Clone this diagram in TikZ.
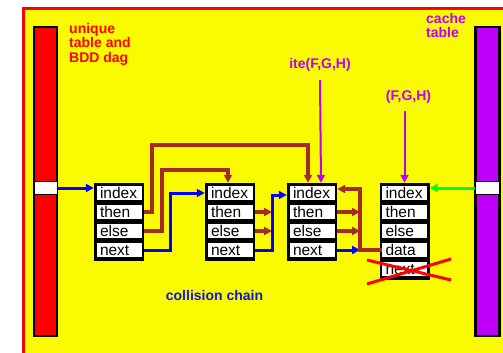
\documentclass[tikz,border=0pt]{standalone}
\usepackage{fontspec}
\setmainfont{Liberation Sans}
\usetikzlibrary{arrows.meta}
\definecolor{ybg}{RGB}{250,250,0}
\definecolor{cpurple}{RGB}{190,0,250}
\definecolor{cbrown}{RGB}{165,42,42}
\definecolor{cblue}{RGB}{0,0,255}
\definecolor{tblue}{RGB}{20,20,220}
\definecolor{cgreen}{RGB}{0,250,0}
\definecolor{cred}{RGB}{255,0,0}
\begin{document}
\begin{tikzpicture}[x=1pt,y=-1pt,
  tipx/.style={-{Triangle[length=8pt,width=8pt]}},
  bluearrow/.style={cblue,line width=3pt,tipx},
  brownarrow/.style={cbrown,line width=3.5pt,tipx},
  purplearrow/.style={cpurple,line width=2pt,tipx},
  greenarrow/.style={cgreen,line width=3pt,tipx},
  bar/.style={draw=black,line width=2.5pt,minimum width=23pt,minimum height=309pt,inner sep=0pt},
  slot/.style={draw=black,line width=1pt,fill=white,minimum width=23pt,minimum height=13pt,inner sep=0pt},
  box/.style={fill=black,minimum width=50pt,inner sep=0pt},
  field/.style={fill=white,minimum width=45pt,minimum height=14pt,inner xsep=3.5pt,inner ysep=0pt,
    text width=38pt,align=left,text height=11pt,text depth=0pt,font=\fontsize{15.5}{16}\selectfont},
  lab/.style={inner sep=0pt,align=left,font=\bfseries\fontsize{14}{14.5}\selectfont}
]
\useasboundingbox (0,0) rectangle (503,353);
\fill[white] (0,0) rectangle (503,353);
\fill[ybg] (22,7) rectangle (503,353);
\draw[cred,line width=3pt] (23.5,353) -- (23.5,8.5) -- (503,8.5);

% tables
\node[bar,fill=cred] (ubar) at (45.5,181.5) {};
\node[slot] (uslot) at (45.5,188) {};
\node[bar,fill=cpurple,minimum width=24pt] (cbar) at (487.5,181.5) {};
\node[slot,minimum width=24pt] (cslot) at (487.5,188) {};

% labels
\node[lab,text=cred,anchor=north west] (ulab) at (69,23) {unique\\table and\\BDD dag};
\node[lab,text=cpurple,anchor=north west] (clab) at (426,13) {cache\\table};
\node[lab,text=cpurple,anchor=base] (ite) at (320,68) {ite(F,G,H)};
\node[lab,text=cpurple,anchor=base] (fgh) at (408.5,100) {(F,G,H)};
\node[lab,text=tblue,anchor=base] (coll) at (214.5,300) {collision chain};

% node 1
\node[box,minimum height=78pt] (n1) at (119,222) {};
\node[field] (n1i) at (119,193) {index};
\node[field] (n1t) at (119,212) {then};
\node[field] (n1e) at (119,231) {else};
\node[field] (n1n) at (119,250) {next};
% node 2
\node[box,minimum height=78pt] (n2) at (230,222) {};
\node[field] (n2i) at (230,193) {index};
\node[field] (n2t) at (230,212) {then};
\node[field] (n2e) at (230,231) {else};
\node[field] (n2n) at (230,250) {next};
% node 3
\node[box,minimum height=78pt] (n3) at (312,222) {};
\node[field] (n3i) at (312,193) {index};
\node[field] (n3t) at (312,212) {then};
\node[field] (n3e) at (312,231) {else};
\node[field] (n3n) at (312,250) {next};
% node 4
\node[box,minimum height=97pt] (n4) at (404.5,231.5) {};
\node[field] (n4i) at (404.5,193) {index};
\node[field] (n4t) at (404.5,212) {then};
\node[field] (n4e) at (404.5,231) {else};
\node[field] (n4d) at (404.5,250) {data};
\node[field] (n4n) at (404.5,269) {next};

\coordinate (bus2) at (272,0);
\coordinate (bus3) at (360,0);
\coordinate (j2) at (272,195);
\coordinate (t3) at (360,189);

% connectors
\draw[bluearrow] (uslot.east) -- (uslot.east -| n1.west);
\draw[brownarrow] (n1t.east -| n1.east) -| (152,145) -| ([xshift=-4pt]n3.north);
\draw[brownarrow] (n1e.east -| n1.east) -| (162,170) -| ([xshift=-2pt]n2.north);
\draw[bluearrow] (n1n.east -| n1.east) -| (170,193) -- (n2i.west -| n2.west);
\draw[brownarrow] (n2t.east -| n2.east) -- (n2t.east -| bus2);
\draw[brownarrow] (n2e.east -| n2.east) -- (n2e.east -| bus2);
\draw[bluearrow] (n2n.east -| n2.east) -| (j2) -- (j2 -| n3.west);
\draw[brownarrow] (n3t.east -| n3.east) -- (n3t.east -| bus3);
\draw[brownarrow] (n3e.east -| n3.east) -- (n3e.east -| bus3);
\draw[bluearrow] (n3n.east -| n3.east) -- (n3n.east -| bus3);
\draw[brownarrow] (n4d.west) -| (t3) -- (t3 -| n3.east);
\draw[purplearrow] ([yshift=-9pt]ite.south) -- ([xshift=1pt]ite.south |- n3.north);
\draw[purplearrow] (fgh.south -| n4.north) ++(0,8) -- (n4.north);
\draw[greenarrow] (cslot.west) -- (cslot.west -| n4.east);

% crossed-out field
\draw[cred,line width=3pt] (367,284) -- (451,259) (367,260) -- (451,280);
\end{tikzpicture}
\end{document}
